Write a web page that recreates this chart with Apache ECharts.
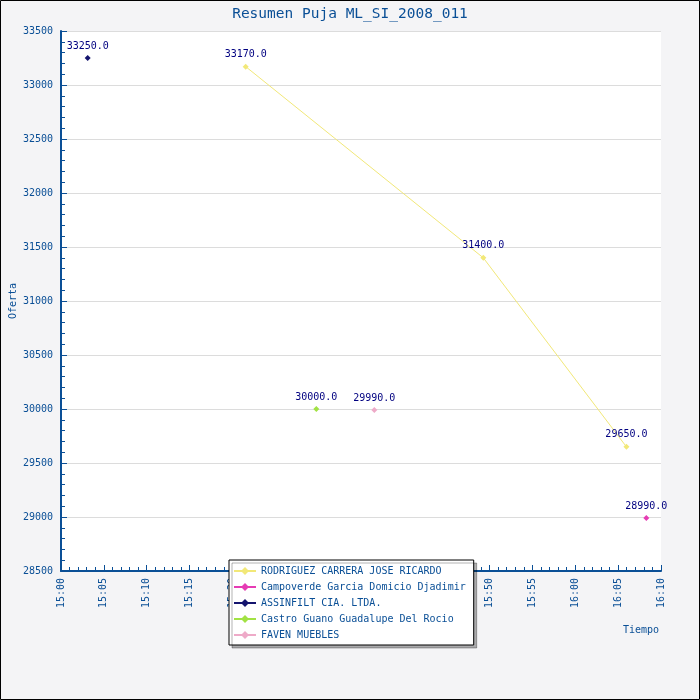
<!DOCTYPE html>
<html><head><meta charset="utf-8">
<script src="https://cdn.jsdelivr.net/npm/echarts@6/dist/echarts.min.js"></script>
<style>html,body{margin:0;padding:0;background:#f4f4f6}#c{width:700px;height:700px}</style>
</head><body><div id="c"></div>
<script>
const seriesNames = ['RODRIGUEZ CARRERA JOSE RICARDO','Campoverde Garcia Domicio Djadimir','ASSINFILT CIA. LTDA.','Castro Guano Guadalupe Del Rocio','FAVEN MUEBLES'];
const seriesColors = ['#f2e878','#e63cb4','#14146e','#a2e244','#eeaac8'];
const rodriguezTimes = ['15:21:33','15:49:16','16:05:58'];
const rodriguezValues = [33170,31400,29650];
const campoverdeTimes = ['16:08:17'];
const campoverdeValues = [28990];
const assinfiltTimes = ['15:03:07'];
const assinfiltValues = [33250];
const castroTimes = ['15:29:47'];
const castroValues = [30000];
const favenTimes = ['15:36:33'];
const favenValues = [29990];
const xTickLabels = ['15:00','15:05','15:10','15:15','15:20','15:25','15:30','15:35','15:40','15:45','15:50','15:55','16:00','16:05','16:10'];
const allTimes = [rodriguezTimes,campoverdeTimes,assinfiltTimes,castroTimes,favenTimes];
const allValues = [rodriguezValues,campoverdeValues,assinfiltValues,castroValues,favenValues];

// minutes since midnight
const toMin = s => { const p = s.split(':').map(Number); return p[0]*60 + p[1] + (p[2]||0)/60; };
const X_MIN = toMin(xTickLabels[0]), X_MAX = toMin(xTickLabels[xTickLabels.length-1]);

const F = 'DejaVu Sans Mono';
const blue = '#0a4f96';
const chart = echarts.init(document.getElementById('c'), null, {renderer:'canvas'});
const series = seriesNames.map((n,i)=>({
  name:n, type:'line', symbol:'diamond', symbolSize:6,
  itemStyle:{color:seriesColors[i]}, lineStyle:{color:seriesColors[i], width:1},
  data: allTimes[i].map((t,j)=>[toMin(t), allValues[i][j]]),
  label:{show:true, position:'top', distance:4, color:'#000080', fontFamily:F, fontSize:10,
    formatter:p=>p.value[1].toFixed(1)},
  emphasis:{disabled:true}, animation:false
}));
chart.setOption({
  backgroundColor:'#f4f4f6',
  animation:false,
  title:{text:'Resumen Puja ML_SI_2008_011', left:'center', top:2,
    textStyle:{fontFamily:F, fontSize:14.5, fontWeight:'normal', color:blue}},
  grid:{left:61, right:39, top:31, bottom:129, show:true, backgroundColor:'#ffffff', borderWidth:0,
    containLabel:false, outerBoundsMode:'none'},
  xAxis:{type:'value', min:X_MIN, max:X_MAX, interval:5,
    axisLine:{lineStyle:{color:blue, width:2}},
    axisTick:{show:true, inside:true, length:6, lineStyle:{color:blue}},
    minorTick:{show:true, splitNumber:5, length:4, lineStyle:{color:blue}},
    splitLine:{show:false},
    axisLabel:{rotate:90, margin:7, color:blue, fontFamily:F, fontSize:10, hideOverlap:false,
      formatter:v=>xTickLabels[Math.round((v-X_MIN)/5)] || ''}},
  yAxis:{type:'value', min:28500, max:33500, interval:500,
    name:'Oferta', nameLocation:'middle', nameGap:43, nameMoveOverlap:false,
    nameTextStyle:{color:blue, fontFamily:F, fontSize:10},
    axisLine:{show:true, lineStyle:{color:blue, width:2}},
    axisTick:{show:true, inside:true, length:6, lineStyle:{color:blue}},
    minorTick:{show:true, splitNumber:5, length:4, lineStyle:{color:blue}},
    splitLine:{show:true, lineStyle:{color:'#dcdcdc'}},
    axisLabel:{color:blue, fontFamily:F, fontSize:10, margin:8, formatter:v=>String(v)}},
  legend:{orient:'vertical', left:229, top:560, width:241, backgroundColor:'#ffffff',
    borderColor:'#000', borderWidth:1, borderRadius:0, padding:[6,8,5,4], itemGap:6,
    itemWidth:22, itemHeight:10,
    shadowColor:'rgba(0,0,0,0.3)', shadowOffsetX:3, shadowOffsetY:3, shadowBlur:0,
    textStyle:{color:blue, fontFamily:F, fontSize:10}, data:seriesNames, selectedMode:false},
  graphic:[
    {type:'text', left:623, top:625, style:{text:'Tiempo', fill:blue, font:'10px "DejaVu Sans Mono"'}},
    {type:'rect', shape:{x:0.5,y:0.5,width:699,height:699}, style:{fill:null, stroke:'#000', lineWidth:1}, silent:true}
  ],
  series: series
});
</script></body></html>
